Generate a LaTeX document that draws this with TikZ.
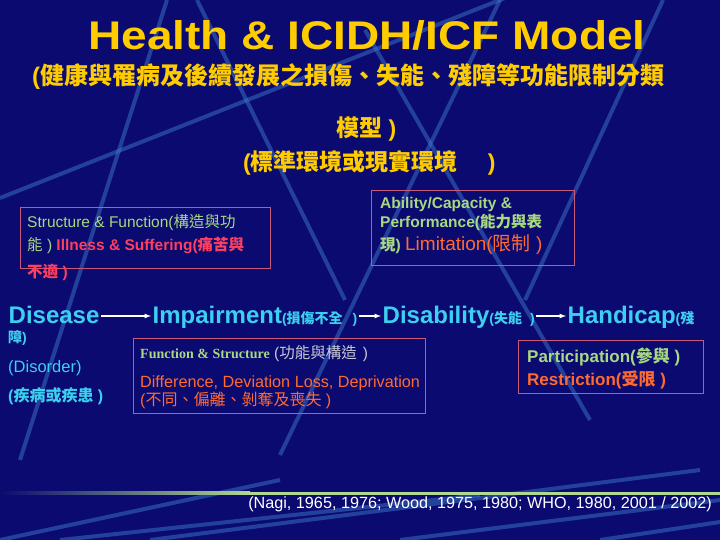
\documentclass[tikz,border=0pt]{standalone}
\usepackage{fontspec}
\setmainfont{Liberation Sans}
\newfontfamily\cjk{Noto Sans CJK TC}
\newfontfamily\serifb{Liberation Serif}
\newcommand{\zh}[1]{{\cjk #1}}
\definecolor{navy}{HTML}{0A0A70}
\definecolor{gold}{HTML}{FFCC00}
\definecolor{cyanish}{HTML}{3CCFF0}
\definecolor{leaf}{HTML}{A8D880}
\definecolor{rose}{HTML}{FF3F5F}
\definecolor{tangerine}{HTML}{FF6A30}
\definecolor{boxred}{HTML}{C85A78}
\definecolor{paleg}{HTML}{C8C8D8}
\definecolor{decoblue}{HTML}{3C78C8}
\definecolor{greenline}{HTML}{B0D890}

\begin{document}
\begin{tikzpicture}[x=1pt,y=-1pt,
  deco/.style={line width=4pt,color=decoblue,opacity=0.5},
  hd/.style={inner sep=0pt,anchor=base west,text=gold,font=\bfseries\fontsize{23}{23}\selectfont},
  boxline/.style={draw=boxred,line width=0.8pt},
  stage/.style={inner xsep=1.5pt,inner ysep=0pt,anchor=base west,text=cyanish,text height=18pt,text depth=4pt,font=\bfseries\fontsize{24}{24}\selectfont},
  flow/.style={->,>=latex,white,line width=1.2pt},
  txt/.style={inner sep=0pt,anchor=base west,font=\fontsize{15.5}{15.5}\selectfont}]
\useasboundingbox (0,0) rectangle (720,540);
\fill[navy] (0,0) rectangle (720,540);
% background lines
\draw[deco] (0,198) -- (505,-2);
\draw[deco] (167,0) -- (20,460);
\draw[deco] (197,0) -- (345,300);
\draw[deco] (500,0) -- (280,455);
\draw[deco] (365,30) -- (590,420);
\draw[deco] (663,0) -- (525,300);
\draw[deco] (0,540) -- (280,480);
\draw[deco] (60,540) -- (480,495);
\draw[deco] (150,540) -- (700,470);
\draw[deco] (400,540) -- (720,500);
\draw[deco] (600,540) -- (720,522);
\fill[left color=navy,right color=greenline] (0,491.5) rectangle (250,494.5);
\fill[greenline] (250,491.5) rectangle (720,494.5);

\node[inner sep=0pt,anchor=base,text=gold,xscale=1.15,font=\bfseries\fontsize{40}{40}\selectfont] (title) at (367,50) {Health \& ICIDH/ICF Model};
\node[hd,font=\bfseries\fontsize{24}{24}\selectfont] (sub1) at (32,85) {(\zh{健康與罹病及後續發展之損傷、失能、殘障等功能限制分類}};
\node[hd] (sub2) at (336,137) {\zh{模型} )};
\node[hd] (sub3) at (243,171) {(\zh{標準環境或現實環境}\hspace{30pt})};

\draw[boxline] (20,207) rectangle (270,268);
\node[txt,text=leaf] (sf1) at (27,227) {Structure \& Function(\zh{構造與功}};
\node[txt] (sf2) at (27,251) {{\color{leaf}\zh{能} )} {\color{rose}\bfseries Illness \& Suffering(\zh{痛苦與}}};
\node[txt,text=rose] (sf3) at (27,277) {\bfseries\zh{不適} )};

\draw[boxline] (371,190) rectangle (574,265);
\node[txt,text=leaf,font=\bfseries\fontsize{15.5}{15.5}\selectfont] (ap1) at (380,209) {Ability/Capacity \&};
\node[txt,text=leaf,font=\bfseries\fontsize{15.5}{15.5}\selectfont] (ap2) at (380,228) {Performance(\zh{能力與表}};
\node[txt,text=leaf,font=\bfseries\fontsize{15.5}{15.5}\selectfont] (ap3) at (380,251) {\zh{現}) {\color{tangerine}\mdseries\fontsize{19}{19}\selectfont Limitation(\zh{限制} )}};

\node[stage] (disease) at (7,323) {Disease};
\node[stage] (impair) at (151,323) {Impairment{\fontsize{14}{14}\selectfont(\zh{損傷不全}\hspace{10pt})}};
\node[stage] (disab) at (381,323) {Disability{\fontsize{14}{14}\selectfont(\zh{失能}\hspace{8pt})}};
\node[stage] (handi) at (566,323) {Handicap{\fontsize{14}{14}\selectfont(\zh{殘}}};
\draw[flow] (disease) -- (impair);
\draw[flow] (impair) -- (disab);
\draw[flow] (disab) -- (handi);

\node[txt,text=cyanish,font=\bfseries\fontsize{14}{14}\selectfont] (wrap) at (8,342) {\zh{障})};
\node[txt,text=cyanish,font=\fontsize{16.5}{16.5}\selectfont] (disorder) at (8,372) {(Disorder)};
\node[txt,text=cyanish,font=\bfseries\fontsize{16}{16}\selectfont] (illness) at (8,401) {(\zh{疾病或疾患} )};

\draw[boxline] (133,338) rectangle (425,413);
\node[txt] (fs1) at (140,358) {{\serifb\bfseries\color{leaf}\fontsize{14}{14}\selectfont Function \& Structure} {\color{paleg}(\zh{功能與構造}\hspace{6pt})}};
\node[txt,text=tangerine,font=\fontsize{16.2}{16.2}\selectfont] (fs2) at (140,387) {Difference, Deviation Loss, Deprivation};
\node[txt,text=tangerine,font=\fontsize{16}{16}\selectfont] (fs3) at (140,405) {(\zh{不同、偏離、剝奪及喪失} )};

\draw[boxline] (518,340) rectangle (703,393);
\node[txt,text=leaf,font=\bfseries\fontsize{17}{17}\selectfont] (pr1) at (527,362) {Participation(\zh{參與} )};
\node[txt,text=tangerine,font=\bfseries\fontsize{17}{17}\selectfont] (pr2) at (527,385) {Restriction(\zh{受限} )};

\node[txt,anchor=base east,text=white,font=\fontsize{16.2}{16.2}\selectfont] (cite) at (712,508) {(Nagi, 1965, 1976; Wood, 1975, 1980; WHO, 1980, 2001 / 2002)};
\end{tikzpicture}
\end{document}
